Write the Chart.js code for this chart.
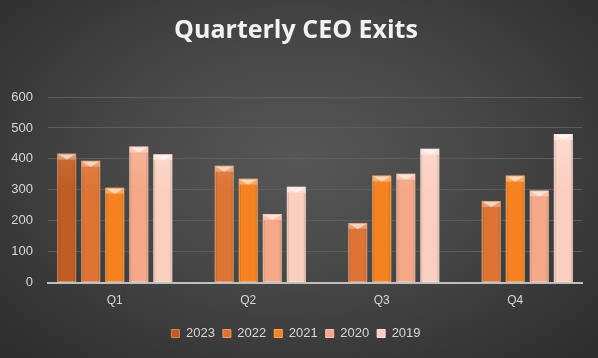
<!DOCTYPE html>
<html>
<head>
<meta charset="utf-8">
<script src="https://cdn.jsdelivr.net/npm/chart.js@4"></script>
<style>
  html, body { margin: 0; padding: 0; }
  body { width: 598px; height: 358px; background: radial-gradient(ellipse at 50% 45%, #575757 0%, #464646 45%, #2c2c2c 100%); }
  #wrap { width: 598px; height: 358px; }
</style>
</head>
<body>
<div id="wrap"><canvas id="c" width="598" height="358"></canvas></div>
<script>
const quarters = ['Q1', 'Q2', 'Q3', 'Q4'];
const years = ['2023', '2022', '2021', '2020', '2019'];
const v2023 = [417, null, null, null];
const v2022 = [394, 378, 193, 264];
const v2021 = [307, 336, 346, 346];
const v2020 = [440, 222, 352, 298];
const v2019 = [415, 310, 433, 480];
const yTicks = [0, 100, 200, 300, 400, 500, 600];

const colors = ['#bf5d22', '#de7434', '#f5821f', '#f5a888', '#fbcfbf'];
const edges = ['#d88456', '#eb9a66', '#fba560', '#fbc3aa', '#fde5da'];

const ctx = document.getElementById('c').getContext('2d');

function barFill(i) {
  return function(context) {
    const area = context.chart.chartArea;
    if (!area) return colors[i];
    const g = context.chart.ctx.createLinearGradient(0, area.top, 0, area.bottom);
    g.addColorStop(0, edges[i]);
    g.addColorStop(0.5, colors[i]);
    g.addColorStop(1, colors[i]);
    return g;
  };
}

const bevel = {
  id: 'bevel',
  afterDatasetsDraw(chart) {
    const c = chart.ctx;
    chart.data.datasets.forEach((ds, i) => {
      const meta = chart.getDatasetMeta(i);
      meta.data.forEach((bar, j) => {
        if (ds.data[j] == null) return;
        const w = bar.width, x0 = bar.x - w / 2, x1 = bar.x + w / 2, top = bar.y, bot = bar.base;
        c.save();
        // top bevel
        c.fillStyle = 'rgba(255,255,255,0.3)';
        c.fillRect(x0 + 1, top + 1, w - 2, 5);
        c.fillStyle = 'rgba(255,255,255,0.55)';
        c.beginPath();
        c.moveTo(x0 + 1, top + 1);
        c.lineTo(x1 - 1, top + 1);
        c.lineTo(bar.x, top + 6);
        c.closePath();
        c.fill();
        // side shading
        c.fillStyle = 'rgba(0,0,0,0.12)';
        c.fillRect(x0, top + 6, 2, bot - top - 6);
        c.fillRect(x1 - 2, top + 6, 2, bot - top - 6);
        c.strokeStyle = 'rgba(255,255,255,0.35)';
        c.lineWidth = 1;
        c.strokeRect(x0 + 0.5, top + 0.5, w - 1, bot - top - 1);
        c.restore();
      });
    });
  }
};

const series = [v2023, v2022, v2021, v2020, v2019];

new Chart(ctx, {
  type: 'bar',
  data: {
    labels: quarters,
    datasets: series.map((vals, i) => ({
      label: years[i],
      data: vals,
      backgroundColor: barFill(i),
      borderWidth: 0,
      categoryPercentage: 0.9,
      barPercentage: 0.79
    }))
  },
  options: {
    responsive: false,
    animation: false,
    layout: { padding: { left: 10, right: 16, top: 8, bottom: 8 } },
    plugins: {
      title: {
        display: true,
        text: 'Quarterly CEO Exits',
        color: '#f2f2f2',
        font: { family: 'Open Sans', size: 25, weight: 'bold' },
        padding: { top: 8, bottom: 51 }
      },
      legend: {
        position: 'bottom',
        labels: {
          color: '#d9d9d9',
          font: { family: 'Liberation Sans', size: 13 },
          usePointStyle: true,
          pointStyle: 'rect',
          boxWidth: 8,
          boxHeight: 8,
          padding: 8,
          generateLabels(chart) {
            return chart.data.datasets.map((ds, i) => ({
              text: ds.label,
              fillStyle: colors[i],
              strokeStyle: edges[i],
              lineWidth: 1,
              pointStyle: 'rect',
              fontColor: '#d9d9d9',
              datasetIndex: i
            }));
          }
        }
      },
      tooltip: { enabled: false }
    },
    scales: {
      x: {
        grid: { display: false, drawTicks: false },
        border: { color: '#bfbfbf', width: 2 },
        ticks: { color: '#d9d9d9', font: { family: 'Liberation Sans', size: 12 }, padding: 11 }
      },
      y: {
        min: 0,
        max: 600,
        afterBuildTicks(axis) { axis.ticks = yTicks.map(v => ({ value: v })); },
        afterFit(axis) { axis.width = 38; },
        grid: { color: '#5e5e5e', lineWidth: 1, drawTicks: false },
        border: { display: false },
        ticks: { color: '#d9d9d9', font: { family: 'Liberation Sans', size: 13 }, padding: 15 }
      }
    }
  },
  plugins: [bevel]
});
</script>
</body>
</html>
